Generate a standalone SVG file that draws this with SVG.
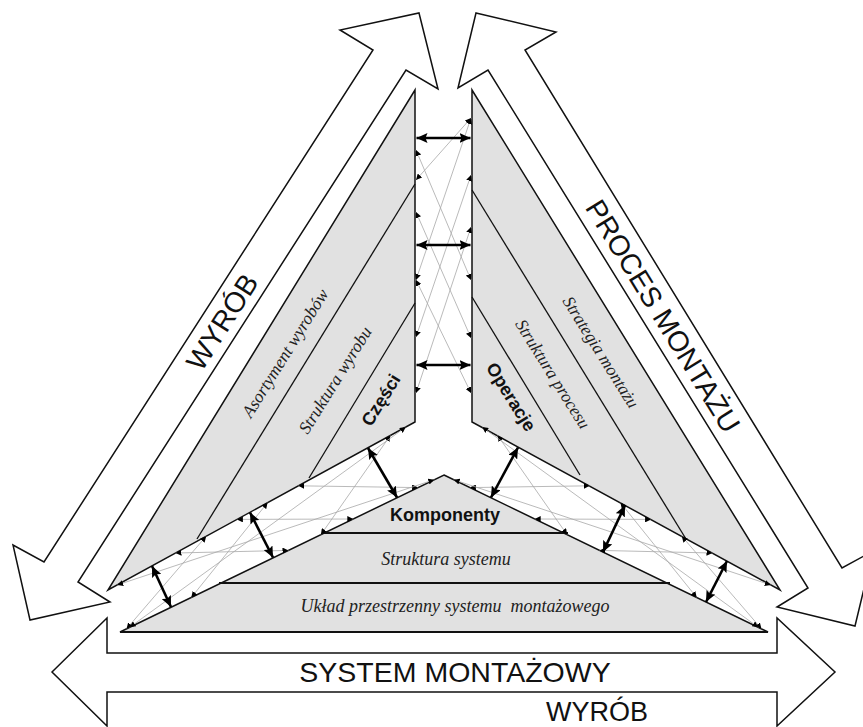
<svg xmlns="http://www.w3.org/2000/svg" width="863" height="727" viewBox="0 0 863 727">
<style>
.big{fill:#fff;stroke:#111;stroke-width:1.5;stroke-linejoin:miter}
.panel{fill:#e1e1e1;stroke:#111;stroke-width:1.5;stroke-linejoin:miter}
.div{fill:none;stroke:#111;stroke-width:1.3}
.hdiv{fill:none;stroke:#111;stroke-width:2.2}
.lat{fill:none;stroke:#a8a8a8;stroke-width:0.8;marker-start:url(#tri);marker-end:url(#tri)}
.dbl{fill:none;stroke:#000;stroke-width:2.6;marker-start:url(#head);marker-end:url(#head)}
.sans{font-family:"Liberation Sans",Arial,sans-serif;fill:#111}
.bold{font-family:"Liberation Sans",Arial,sans-serif;font-weight:bold;fill:#111}
.ital{font-family:"Liberation Serif","Times New Roman",serif;font-style:italic;fill:#222}
</style>
<defs>
<marker id="head" markerUnits="userSpaceOnUse" markerWidth="12" markerHeight="10" refX="11" refY="5" orient="auto-start-reverse">
<path d="M0,0 L11,5 L0,10 L2,5 z" fill="#000"/>
</marker>
<marker id="tri" markerUnits="userSpaceOnUse" markerWidth="7" markerHeight="6" refX="6" refY="3" orient="auto-start-reverse">
<path d="M0,0 L6,3 L0,6 z" fill="#000"/>
</marker>
</defs>
<rect width="863" height="727" fill="#fff"/>

<g id="arrow-wyrob">
<polygon class="big" points="419,13 438,89 406,70 78,582 110,602 30,620 13,545 44,562 373,50 340,30"/>
<text class="sans" x="222" y="322" font-size="28.5" text-anchor="middle" dominant-baseline="central" transform="rotate(-57.4 222 322)">WYRÓB</text>
</g>

<g id="arrow-proces">
<polygon class="big" points="476,13 556,32 525,50 842,568 873,551 855,626 777,607 808,588 488,70 458,88"/>
<text class="sans" x="663" y="316" font-size="28.5" text-anchor="middle" dominant-baseline="central" transform="rotate(58.4 663 316)">PROCES MONTAŻU</text>
</g>

<g id="arrow-system">
<polygon class="big" points="52,672 107,618 107,653 777,653 777,618 835,672 777,726 777,692 107,692 107,726"/>
<text class="sans" x="455" y="672" font-size="28.5" text-anchor="middle" dominant-baseline="central">SYSTEM MONTAŻOWY</text>
<text class="sans" x="597" y="721" font-size="27" text-anchor="middle">WYRÓB</text>
</g>

<g id="panel-wyrob">
<polygon class="panel" points="415,90 415,422 108,590"/>
<line class="div" x1="415" y1="184" x2="197" y2="539"/>
<line class="div" x1="415" y1="303" x2="309" y2="478"/>
<text class="ital" x="285" y="353" font-size="17.5" text-anchor="middle" dominant-baseline="central" transform="rotate(-58 285 353)">Asortyment wyrobów</text>
<text class="ital" x="335" y="380" font-size="17.5" text-anchor="middle" dominant-baseline="central" transform="rotate(-58 335 380)">Struktura wyrobu</text>
<text class="bold" x="381" y="400" font-size="18" text-anchor="middle" dominant-baseline="central" transform="rotate(-58 381 400)">Części</text>
</g>

<g id="panel-proces">
<polygon class="panel" points="472,90 472,422 780,590"/>
<line class="div" x1="472" y1="190" x2="686" y2="539"/>
<line class="div" x1="472" y1="297" x2="580" y2="475"/>
<text class="ital" x="601" y="352" font-size="17.5" text-anchor="middle" dominant-baseline="central" transform="rotate(58 601 352)">Strategia montażu</text>
<text class="ital" x="553" y="374" font-size="17.5" text-anchor="middle" dominant-baseline="central" transform="rotate(58 553 374)">Struktura procesu</text>
<text class="bold" x="511" y="397" font-size="18" text-anchor="middle" dominant-baseline="central" transform="rotate(58 511 397)">Operacje</text>
</g>

<g id="panel-system">
<polygon class="panel" points="444,475 768,632 120,632"/>
<line class="hdiv" x1="323" y1="533" x2="568" y2="533"/>
<line class="hdiv" x1="219" y1="583" x2="670" y2="583"/>
<line class="hdiv" x1="120" y1="632" x2="768" y2="632"/>
<text class="bold" x="445" y="515" font-size="18" text-anchor="middle" dominant-baseline="central">Komponenty</text>
<text class="ital" x="446" y="559" font-size="18" text-anchor="middle" dominant-baseline="central">Struktura systemu</text>
<text class="ital" x="455" y="606" font-size="18" text-anchor="middle" dominant-baseline="central" style="white-space:pre">Układ przestrzenny systemu  montażowego</text>
</g>

<g id="connectors">
<g id="lattice-center">
<line class="lat" x1="416" y1="150" x2="471" y2="280"/>
<line class="lat" x1="416" y1="212" x2="471" y2="338"/>
<line class="lat" x1="416" y1="280" x2="471" y2="393"/>
<line class="lat" x1="471" y1="118" x2="416" y2="280"/>
<line class="lat" x1="471" y1="175" x2="416" y2="337"/>
<line class="lat" x1="471" y1="227" x2="416" y2="393"/>
<line class="lat" x1="416" y1="180" x2="471" y2="118"/>
</g>
<g id="lattice-left">
<line class="lat" x1="175.5" y1="553.0" x2="288.5" y2="550.4"/>
<line class="lat" x1="236.9" y1="519.4" x2="353.3" y2="519.0"/>
<line class="lat" x1="298.3" y1="485.8" x2="418.1" y2="487.6"/>
<line class="lat" x1="126.5" y1="628.9" x2="206.2" y2="536.2"/>
<line class="lat" x1="191.3" y1="597.5" x2="267.6" y2="502.6"/>
<line class="lat" x1="320.9" y1="534.7" x2="390.4" y2="435.4"/>
<line class="lat" x1="117.2" y1="585.0" x2="434.3" y2="479.7"/>
<line class="lat" x1="129.7" y1="627.3" x2="405.8" y2="427.0"/>
</g>
<use href="#lattice-left" transform="matrix(-1,0,0,1,888,0)"/>
<line class="dbl" x1="416.5" y1="138" x2="470.5" y2="138"/>
<line class="dbl" x1="416.5" y1="245" x2="470.5" y2="245"/>
<line class="dbl" x1="416.5" y1="365" x2="470.5" y2="365"/>
<line class="dbl" x1="368" y1="448" x2="397" y2="497.5"/>
<line class="dbl" x1="250" y1="512.5" x2="273" y2="557.5"/>
<line class="dbl" x1="152" y1="566" x2="171" y2="607"/>
<line class="dbl" x1="518" y1="447.5" x2="491" y2="497.5"/>
<line class="dbl" x1="625" y1="505.5" x2="603" y2="552"/>
<line class="dbl" x1="727" y1="561" x2="706" y2="602"/>
</g>
</svg>
